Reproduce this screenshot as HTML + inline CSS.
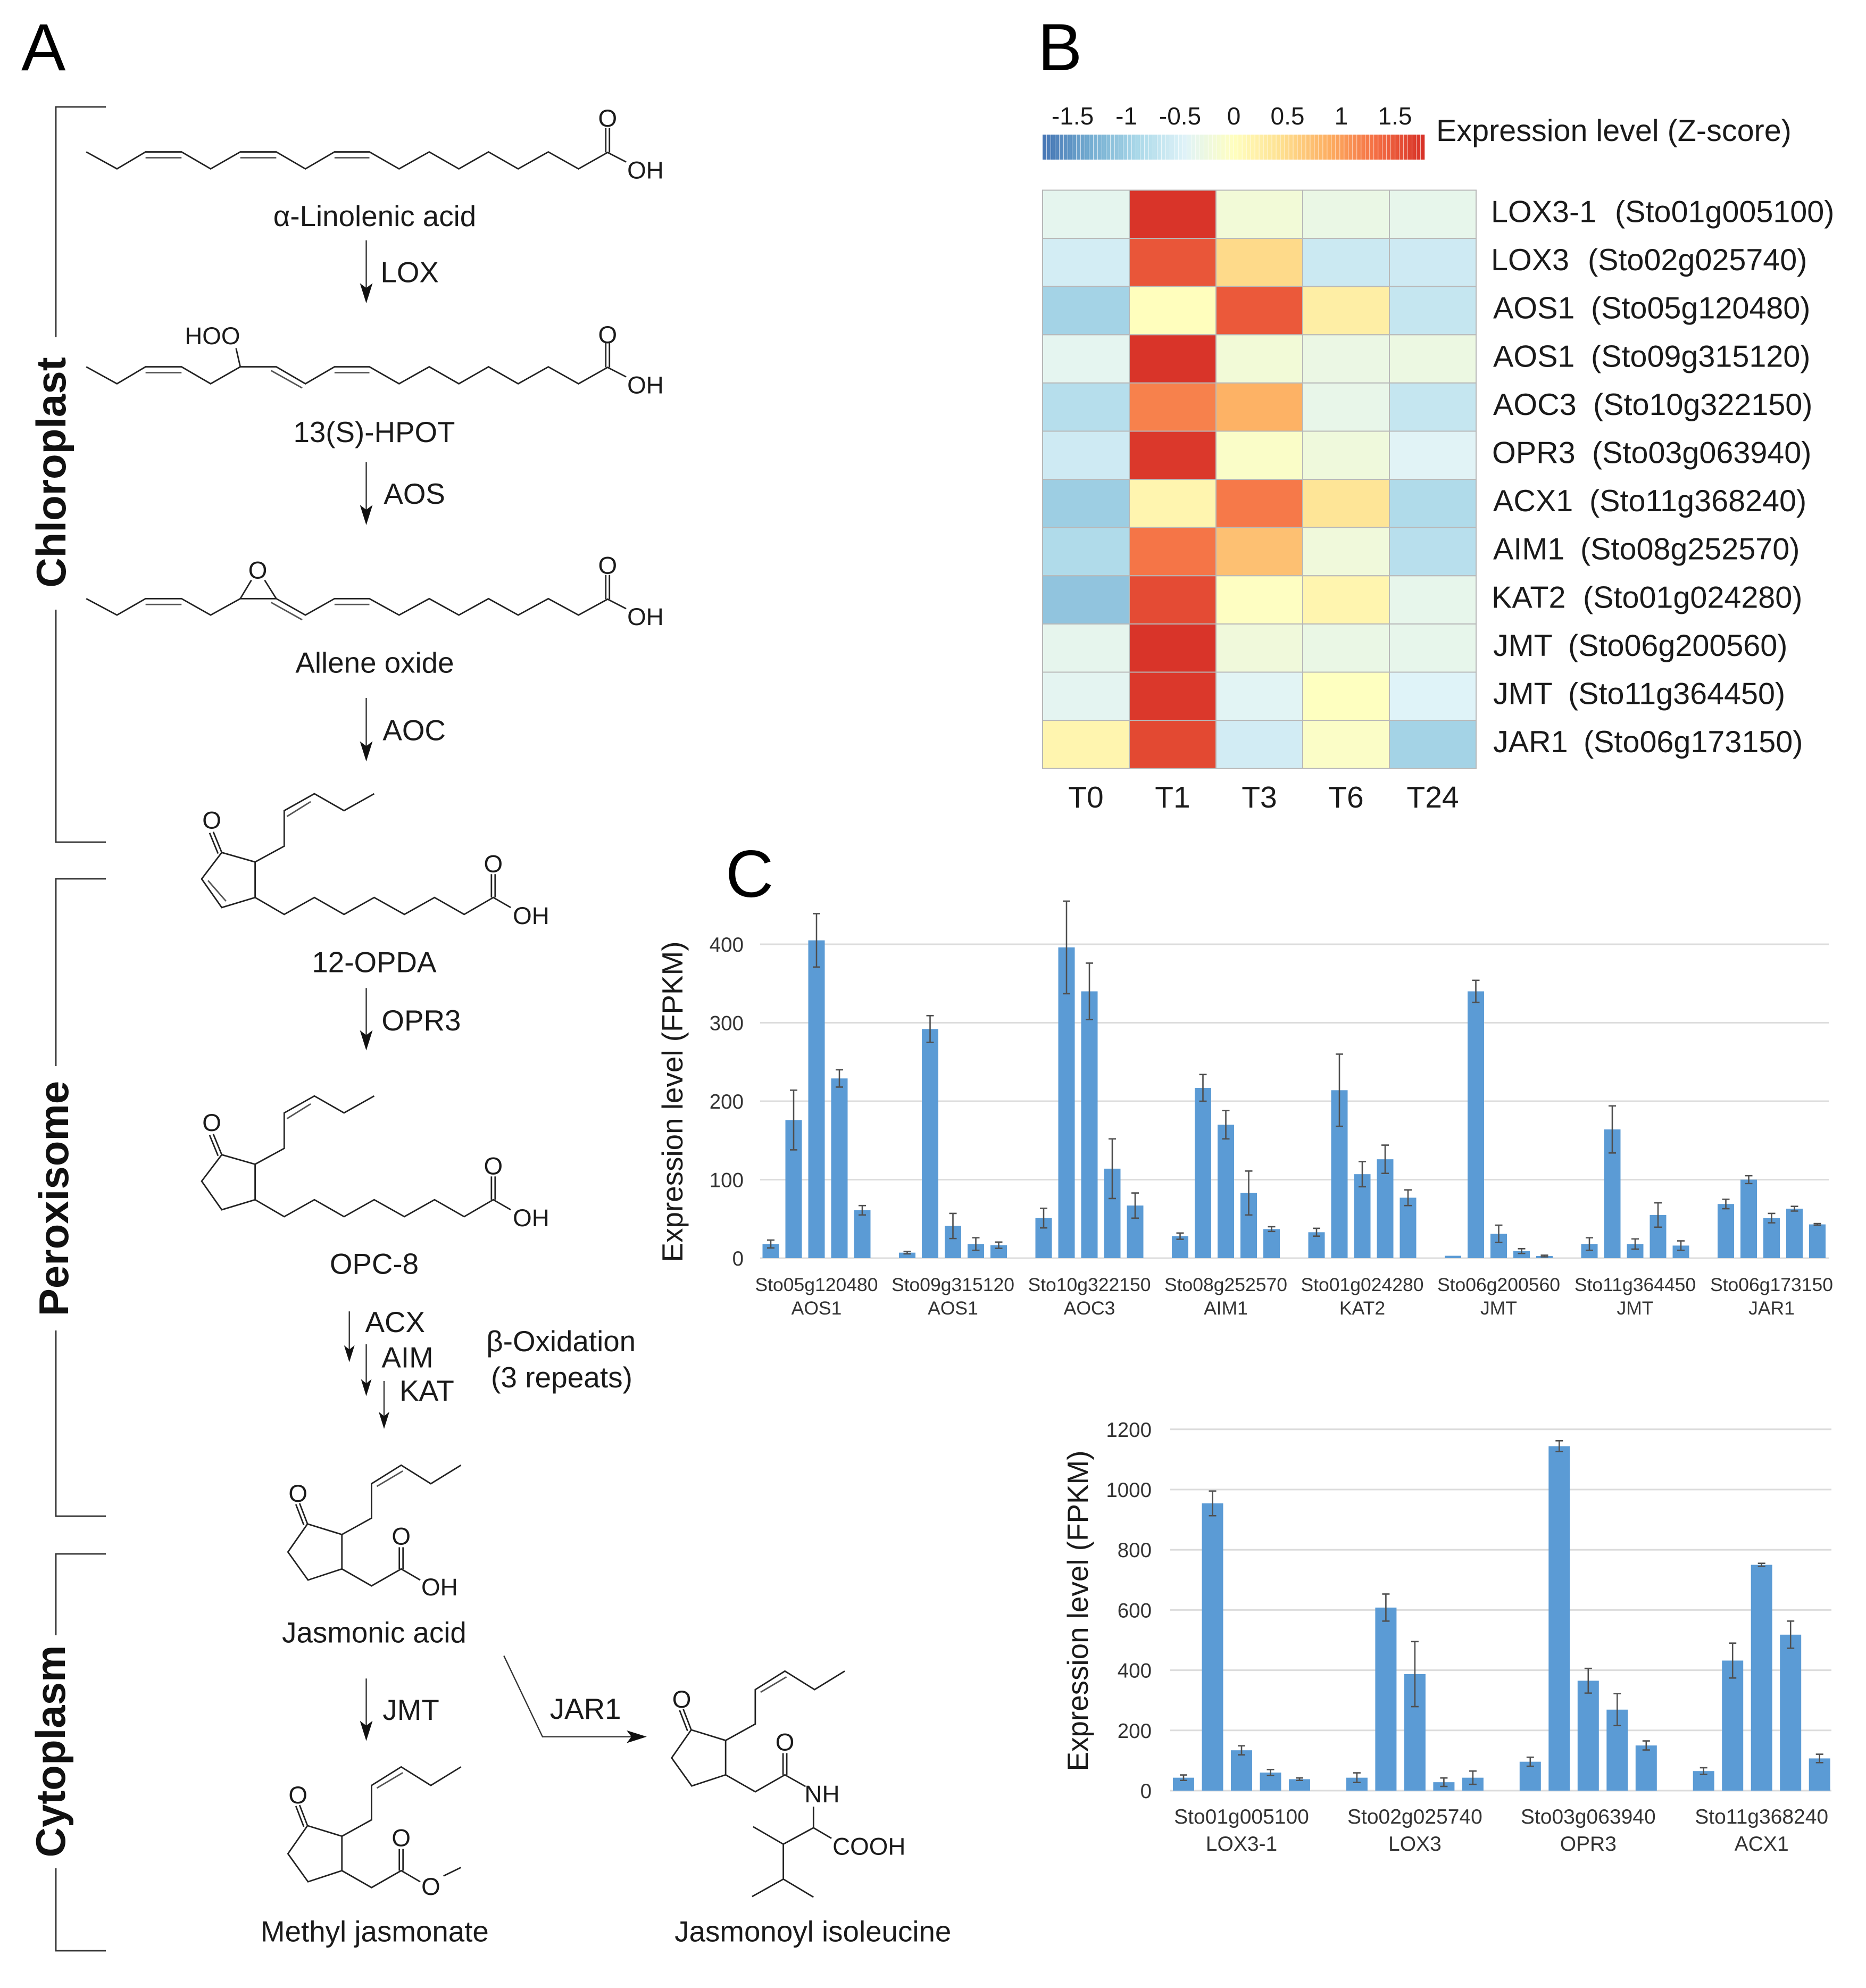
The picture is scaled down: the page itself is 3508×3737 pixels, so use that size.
<!DOCTYPE html>
<html lang="en">
<head>
<meta charset="utf-8">
<title>Jasmonate biosynthesis pathway and expression</title>
<style>
html,body{margin:0;padding:0;background:#fff;}
svg{display:block;}
text{font-family:"Liberation Sans",sans-serif;fill:#1a1a1a;}
.n{font-size:55px;}
.a{font-size:46px;}
.p{font-size:125px;fill:#000;}
.c{font-size:78px;font-weight:bold;fill:#111;}
.m{text-anchor:middle;}
.l{fill:none;stroke:#222;stroke-width:2.8;stroke-linejoin:miter;}
.i{fill:none;stroke:#555;stroke-width:2.8;}
.b{fill:none;stroke:#333;stroke-width:2.8;}
.h{fill:#111;stroke:none;}
.s{fill:none;stroke:#333;stroke-width:2.4;}
</style>
</head>
<body>
<svg id="fig" xmlns="http://www.w3.org/2000/svg" width="3508" height="3737" viewBox="0 0 3508 3737">
<rect x="0" y="0" width="3508" height="3737" fill="#fff"/>

<text class="p" x="40" y="132">A</text>
<text class="p" x="1951" y="132">B</text>
<text class="p" x="1364" y="1686">C</text>

<g>
<polyline class="b" points="199,201 105,201 105,634"/>
<polyline class="b" points="105,1146 105,1583 199,1583"/>
<text class="c m" transform="translate(123,888) rotate(-90)">Chloroplast</text>
</g>
<g>
<polyline class="b" points="199,1652 105,1652 105,2004"/>
<polyline class="b" points="105,2501 105,2850 199,2850"/>
<text class="c m" transform="translate(128,2253) rotate(-90)">Peroxisome</text>
</g>
<g>
<polyline class="b" points="199,2921 105,2921 105,3074"/>
<polyline class="b" points="105,3512 105,3667 199,3667"/>
<text class="c m" transform="translate(122,3292) rotate(-90)">Cytoplasm</text>
</g>

<g transform="matrix(.995 0 0 .995 0 0)">
<g>
<polyline class="l" points="163,287 221,319 275,287 343,287 398,319 454,287 522,287 577,319 632,287 698,287 754,319 811,287 867,319 923,287 979,319 1036,287 1093,319 1148,288 1183,306"/>
<path class="i" d="M275,298H343M454,298H522M632,298H698"/>
<path class="l" d="M1144.500,288V242M1151.500,288V242"/>
<text class="a m" x="1148" y="239">O</text>
<text class="a" x="1185" y="337">OH</text>
</g>
<text class="n m" x="708" y="427">α-Linolenic acid</text>

<g>
<path class="s" d="M692,454V545"/><polygon class="h" points="692,573 680,535 692,544 704,535"/>
<text class="n" x="719" y="533">LOX</text>
</g>

<g>
<polyline class="l" points="163,693 221,725 275,693 343,693 398,725 454,693 522,693 577,725 632,693 698,693 754,725 811,693 867,725 923,693 979,725 1036,693 1093,725 1148,694 1183,712"/>
<path class="i" d="M275,704H343M512,700L571,733M632,704H698"/>
<path class="l" d="M446,658L454,693M1144.500,694V648M1151.500,694V648"/>
<text class="a" x="349" y="650">HOO</text>
<text class="a m" x="1148" y="648">O</text>
<text class="a" x="1185" y="743">OH</text>
</g>
<text class="n m" x="707" y="835">13(S)-HPOT</text>

<g>
<path class="s" d="M692,873V964"/><polygon class="h" points="692,992 680,954 692,963 704,954"/>
<text class="n" x="725" y="952">AOS</text>
</g>

<g>
<polyline class="l" points="163,1131 221,1162 275,1131 343,1131 398,1162 454,1131 522,1131 577,1162 632,1131 698,1131 754,1162 811,1131 867,1162 923,1131 979,1162 1036,1131 1093,1162 1148,1132 1183,1150"/>
<path class="i" d="M275,1142H343M512,1138L571,1171M632,1142H698"/>
<path class="l" d="M454,1131L475,1096M522,1131L500,1096M1144.500,1132V1086M1151.500,1132V1086"/>
<text class="a m" x="487" y="1093">O</text>
<text class="a m" x="1148" y="1084">O</text>
<text class="a" x="1185" y="1181">OH</text>
</g>
<text class="n m" x="708" y="1271">Allene oxide</text>
</g>

<g transform="matrix(.995 0 0 .995 0 6.500)">
<g>
<path class="s" d="M692,1312V1404"/><polygon class="h" points="692,1432 680,1394 692,1403 704,1394"/>
<text class="n" x="723" y="1392">AOC</text>
</g>

<g>
<polyline class="l" points="707,1493 650,1525 594,1493 537,1525 537,1592 482,1622"/>
<polygon class="l" points="482,1622 419,1604 381,1654 419,1708 482,1689"/>
<polyline class="l" points="482,1689 537,1721 594,1689 650,1721 707,1689 764,1721 821,1689 877,1721 932,1689 965,1708"/>
<path class="i" d="M542,1536L587,1508M393,1657L427,1696"/>
<path class="l" d="M419,1604L403,1565M412,1606L396,1567M928.500,1689V1645M935.500,1689V1645"/>
<text class="a m" x="400" y="1559">O</text>
<text class="a m" x="932" y="1641">O</text>
<text class="a" x="969" y="1739">OH</text>
</g>
<text class="n m" x="707" y="1830">12-OPDA</text>

<g>
<path class="s" d="M692,1860V1950"/><polygon class="h" points="692,1978 680,1940 692,1949 704,1940"/>
<text class="n" x="721" y="1940">OPR3</text>
</g>

<g>
<polyline class="l" points="707,2064 650,2096 594,2064 537,2096 537,2163 482,2193"/>
<polygon class="l" points="482,2193 419,2175 381,2225 419,2279 482,2260"/>
<polyline class="l" points="482,2260 537,2292 594,2260 650,2292 707,2260 764,2292 821,2260 877,2292 932,2260 965,2279"/>
<path class="i" d="M542,2107L587,2079"/>
<path class="l" d="M419,2175L403,2136M412,2177L396,2138M928.500,2260V2216M935.500,2260V2216"/>
<text class="a m" x="400" y="2130">O</text>
<text class="a m" x="932" y="2212">O</text>
<text class="a" x="969" y="2310">OH</text>
</g>
<text class="n m" x="707" y="2400">OPC-8</text>

<g>
<path class="s" d="M660,2471V2545"/><polygon class="h" points="660,2567 650,2535 660,2543 670,2535"/>
<text class="n" x="690" y="2510">ACX</text>
</g>
<g>
<path class="s" d="M692,2533V2609"/><polygon class="h" points="692,2631 682,2599 692,2607 702,2599"/>
<text class="n" x="721" y="2577">AIM</text>
</g>
<text class="n m" x="1060" y="2546">β-Oxidation</text>
</g>

<g>
<path class="s" d="M722,2596V2664"/><polygon class="h" points="722,2686 712,2654 722,2662 732,2654"/>
<text class="n" x="751" y="2633">KAT</text>
</g>
<text class="n m" x="1056" y="2608">(3 repeats)</text>

<g transform="matrix(.995 0 0 .995 0 13)">
<g>
<polyline class="l" points="871,2755 814,2790 758,2755 702,2790 702,2855 646,2886"/>
<polygon class="l" points="646,2886 581,2866 544,2919 582,2972 646,2951"/>
<polyline class="l" points="646,2951 702,2983 758,2951 794,2972"/>
<path class="i" d="M712,2795L761,2766"/>
<path class="l" d="M581,2866L566,2827M574,2868L559,2829M754.500,2951V2910M761.500,2951V2910"/>
<text class="a m" x="563" y="2824">O</text>
<text class="a m" x="758" y="2905">O</text>
<text class="a" x="796" y="3001">OH</text>
</g>
<text class="n m" x="707" y="3090">Jasmonic acid</text>

<g>
<path class="s" d="M692,3158V3248"/><polygon class="h" points="692,3276 680,3238 692,3247 704,3238"/>
<text class="n" x="723" y="3236">JMT</text>
</g>

<g>
<polyline class="l" points="871,3325 814,3360 758,3325 702,3360 702,3425 646,3456"/>
<polygon class="l" points="646,3456 581,3436 544,3489 582,3542 646,3521"/>
<polyline class="l" points="646,3521 702,3553 758,3521 794,3542"/>
<path class="i" d="M712,3365L761,3336"/>
<path class="l" d="M581,3436L566,3397M574,3438L559,3399M754.500,3521V3480M761.500,3521V3480M838,3531L871,3515"/>
<text class="a m" x="563" y="3394">O</text>
<text class="a m" x="758" y="3475">O</text>
<text class="a m" x="814" y="3567">O</text>
</g>
<text class="n m" x="708" y="3655">Methyl jasmonate</text>

<g>
<polyline class="s" points="952,3115 1025,3268 1200,3268"/>
<polygon class="h" points="1222,3268 1184,3256 1193,3268 1184,3280"/>
<text class="n" x="1039" y="3234">JAR1</text>
</g>

<g>
<polyline class="l" points="1596,3144 1539,3179 1483,3144 1427,3179 1427,3244 1371,3275"/>
<polygon class="l" points="1371,3275 1306,3255 1269,3308 1307,3361 1371,3340"/>
<polyline class="l" points="1371,3340 1427,3372 1483,3340 1522,3362"/>
<path class="i" d="M1437,3184L1486,3155"/>
<path class="l" d="M1306,3255L1291,3216M1299,3257L1284,3218M1479.500,3340V3299M1486.500,3340V3299"/>
<polyline class="l" points="1537,3400 1537,3440 1571,3460"/>
<polyline class="l" points="1537,3440 1480,3471 1423,3438"/>
<polyline class="l" points="1480,3471 1480,3537 1421,3570"/>
<path class="l" d="M1480,3537L1537,3571"/>
<text class="a m" x="1288" y="3213">O</text>
<text class="a m" x="1483" y="3294">O</text>
<text class="a" x="1520" y="3392">NH</text>
<text class="a" x="1573" y="3491">COOH</text>
</g>
<text class="n m" x="1536" y="3655">Jasmonoyl isoleucine</text>
</g>

<g id="heatmap"></g>
<g id="colorbar"></g>
<text x="2700" y="265" style="font-size:57.500px">Expression level (Z-score)</text>
<g id="chart1"></g>
<g id="chart2"></g>
</svg>

<script>
const heatTimes = ["T0", "T1", "T3", "T6", "T24"];
const heatGenes = ["LOX3-1", "LOX3", "AOS1", "AOS1", "AOC3", "OPR3", "ACX1", "AIM1", "KAT2", "JMT", "JMT", "JAR1"];
const heatIds = ["(Sto01g005100)", "(Sto02g025740)", "(Sto05g120480)", "(Sto09g315120)", "(Sto10g322150)", "(Sto03g063940)", "(Sto11g368240)", "(Sto08g252570)", "(Sto01g024280)", "(Sto06g200560)", "(Sto11g364450)", "(Sto06g173150)"];
const heatZ = [
  [-0.37, 1.75, -0.19, -0.30, -0.34],
  [-0.55, 1.50, 0.50, -0.62, -0.60],
  [-0.95, 0.02, 1.48, 0.25, -0.67],
  [-0.38, 1.75, -0.19, -0.29, -0.27],
  [-0.80, 1.20, 0.85, -0.33, -0.67],
  [-0.60, 1.72, -0.07, -0.23, -0.43],
  [-1.00, 0.15, 1.25, 0.38, -0.85],
  [-0.85, 1.28, 0.73, -0.22, -0.78],
  [-1.10, 1.58, -0.02, 0.15, -0.34],
  [-0.36, 1.75, -0.22, -0.30, -0.34],
  [-0.39, 1.72, -0.41, -0.01, -0.45],
  [0.15, 1.60, -0.56, -0.06, -0.95]
];
const colorbarTicks = [-1.5, -1, -0.5, 0, 0.5, 1, 1.5];
const colormapStops = ["#4575b4", "#74add1", "#abd9e9", "#e0f3f8", "#ffffbf", "#fee090", "#fdae61", "#f46d43", "#d73027"];

const chart1Ids = ["Sto05g120480", "Sto09g315120", "Sto10g322150", "Sto08g252570", "Sto01g024280", "Sto06g200560", "Sto11g364450", "Sto06g173150"];
const chart1Genes = ["AOS1", "AOS1", "AOC3", "AIM1", "KAT2", "JMT", "JMT", "JAR1"];
const chart1Ticks = [0, 100, 200, 300, 400];
const chart1Values = [
  [18, 176, 405, 229, 61],
  [7, 292, 41, 18, 16.5],
  [51, 396, 340, 114, 67],
  [28, 217, 170, 83, 37],
  [33, 214, 107, 126, 77],
  [3, 340, 31, 9, 2.7],
  [18, 164, 18, 55, 16],
  [69, 100, 51, 63, 43]
];
const chart1Errors = [
  [5, 38, 34, 11, 6],
  [1.5, 17, 16, 8, 4],
  [12.5, 59, 36, 38, 16],
  [4, 17, 18, 28, 3],
  [5, 46, 16, 18, 10],
  [0, 14, 11, 3, 1],
  [8, 30, 6.5, 15.5, 6],
  [6, 5, 6, 3, 1]
];

const chart2Ids = ["Sto01g005100", "Sto02g025740", "Sto03g063940", "Sto11g368240"];
const chart2Genes = ["LOX3-1", "LOX3", "OPR3", "ACX1"];
const chart2Ticks = [0, 200, 400, 600, 800, 1000, 1200];
const chart2Values = [
  [43, 954, 134, 60, 38],
  [43, 608, 387, 28, 43],
  [96, 1144, 365, 269, 150],
  [65, 432, 750, 518, 107]
];
const chart2Errors = [
  [9, 41, 15, 10, 4],
  [16, 45, 108, 14, 22],
  [15, 18, 41, 53, 15],
  [11, 58, 5, 45, 14]
];

const SVGNS = "http://www.w3.org/2000/svg";
function mk(tag, parent, attrs, txt) {
  const el = document.createElementNS(SVGNS, tag);
  for (const k in attrs) el.setAttribute(k, attrs[k]);
  if (txt !== undefined) el.textContent = txt;
  parent.appendChild(el);
  return el;
}
function hexRgb(h) { return [1, 3, 5].map(function (i) { return parseInt(h.substr(i, 2), 16); }); }
const Z_MAX = 1.78;
function zColor(z) {
  const t = Math.max(0, Math.min(0.99999, (z + Z_MAX) / (2 * Z_MAX))) * (colormapStops.length - 1);
  const i = Math.floor(t), f = t - i;
  const a = hexRgb(colormapStops[i]), b = hexRgb(colormapStops[i + 1]);
  return "rgb(" + a.map(function (v, k) { return Math.round(v + (b[k] - v) * f); }).join(",") + ")";
}

/* Panel B: heat map */
const heatG = document.getElementById("heatmap");
const heatLeft = 1960, heatTop = 357.5, cellW = 163, cellH = 90.6;
function heatX(c) { return heatLeft + c * cellW; }
function heatY(r) { return heatTop + r * cellH; }
const idOffsets = [233, 182, 188, 188, 192, 190, 185, 168, 173, 145, 145, 174];
const nameOffsets = [0, 0, 4, 4, 4, 2, 4, 4, 1, 4, 4, 4];
heatZ.forEach(function (row, r) {
  row.forEach(function (z, c) {
    const cell = mk("rect", heatG, { x: heatX(c), y: heatY(r), width: cellW, height: cellH, fill: zColor(z), stroke: "#b8b8b8", "stroke-width": 2 });
    
    
  });
  const nameLabel = mk("text", heatG, { x: 2803 + nameOffsets[r], y: heatY(r) + 60, "font-size": 57.5 }, heatGenes[r]);
  
  
  const idLabel = mk("text", heatG, { x: 2803 + idOffsets[r], y: heatY(r) + 60, "font-size": 57.5 }, heatIds[r]);
  
  
});
heatTimes.forEach(function (t, c) {
  const lab = mk("text", heatG, { x: heatX(c) + cellW / 2, y: 1518, "font-size": 57, "text-anchor": "middle" }, t);
  
  
});

/* Colour bar */
const barG = document.getElementById("colorbar");
const cbLeft = 1960, cbRight = 2679, cbSteps = 90;
function cbX(z) { return cbLeft + (z + Z_MAX) / (2 * Z_MAX) * (cbRight - cbLeft); }
for (let k = 0; k < cbSteps; k++) {
  const z0 = -Z_MAX + 2 * Z_MAX * k / cbSteps;
  const z1 = -Z_MAX + 2 * Z_MAX * (k + 1) / cbSteps;
  const seg = mk("rect", barG, { x: cbX(z0), y: 253, width: cbX(z1) - cbX(z0) - 0.7, height: 47, fill: zColor((z0 + z1) / 2) });
  
  
}
colorbarTicks.forEach(function (t) {
  const lab = mk("text", barG, { x: cbX(t), y: 234, "font-size": 46, "text-anchor": "middle" }, String(t));
  
  
});

/* Panel C: bar charts */
function drawChart(cfg) {
  const g = document.getElementById(cfg.id);
  const y = function (v) { return cfg.y0 - v * cfg.pxPerUnit; };
  const x = function (gi, i) { return cfg.x0 + gi * cfg.groupStep + (i - 2) * cfg.barStep; };
  cfg.ticks.forEach(function (t) {
    const grid = mk("line", g, { x1: cfg.gridL, x2: cfg.gridR, y1: y(t), y2: y(t), stroke: "#dcdcdc", "stroke-width": 3 });
    
    
    const lab = mk("text", g, { x: cfg.tickX, y: y(t) + 14, "font-size": 38.5, "text-anchor": "end", style: "fill:#333" }, String(t));
    
    
  });
  cfg.values.forEach(function (group, gi) {
    group.forEach(function (v, i) {
      const cx = x(gi, i);
      const bar = mk("rect", g, { x: cx - cfg.barW / 2, y: y(v), width: cfg.barW, height: cfg.y0 - y(v), fill: "#5b9bd5" });
      
      
      const e = cfg.errors[gi][i];
      if (e > 0) {
        const hi = y(v + e), lo = y(Math.max(0, v - e)), cap = cfg.capW / 2;
        const err = mk("path", g, { d: "M" + cx + "," + hi + "V" + lo + "M" + (cx - cap) + "," + hi + "H" + (cx + cap) + "M" + (cx - cap) + "," + lo + "H" + (cx + cap), stroke: "#4f4f4f", "stroke-width": 2.6, fill: "none" });
        
        
      }
    });
    const cx = x(gi, 2);
    const idL = mk("text", g, { x: cx, y: cfg.labelY1, "font-size": cfg.labelSize, "text-anchor": "middle", style: "fill:#333" }, cfg.ids[gi]);
    
    
    const geneL = mk("text", g, { x: cx, y: cfg.labelY2, "font-size": cfg.labelSize, "text-anchor": "middle", style: "fill:#333" }, cfg.genes[gi]);
    
    
  });
  const title = mk("text", g, { transform: "translate(" + cfg.titleX + "," + cfg.titleY + ") rotate(-90)", "font-size": 54.8, "text-anchor": "middle" }, "Expression level (FPKM)");
  
  
}
drawChart({
  id: "chart1", ids: chart1Ids, genes: chart1Genes, ticks: chart1Ticks, values: chart1Values, errors: chart1Errors,
  y0: 2365, pxPerUnit: 1.475, x0: 1535, groupStep: 256.5, barStep: 43, barW: 31, capW: 14,
  gridL: 1429, gridR: 3438, tickX: 1398, labelY1: 2427, labelY2: 2471, labelSize: 35.5, titleX: 1283, titleY: 2071
});
drawChart({
  id: "chart2", ids: chart2Ids, genes: chart2Genes, ticks: chart2Ticks, values: chart2Values, errors: chart2Errors,
  y0: 3366, pxPerUnit: 0.566, x0: 2334, groupStep: 325.9, barStep: 54.5, barW: 40, capW: 14,
  gridL: 2200, gridR: 3443, tickX: 2165, labelY1: 3428, labelY2: 3479, labelSize: 39, titleX: 2045, titleY: 3028
});
</script>
</body>
</html>
